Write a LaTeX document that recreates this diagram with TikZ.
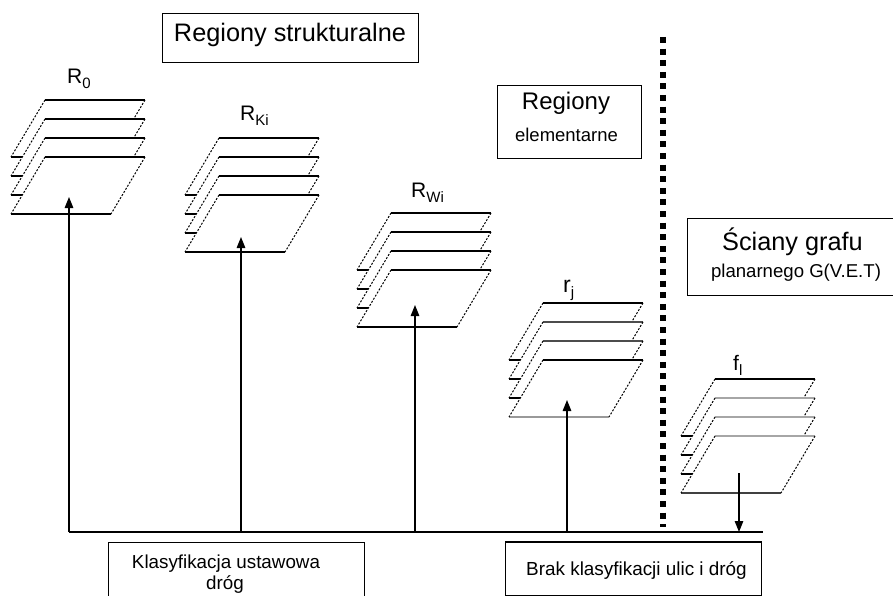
\documentclass[tikz,border=0pt]{standalone}
\usepackage{fontspec}
\setmainfont{Liberation Sans}
\usetikzlibrary{arrows.meta}
\newcommand{\lsub}[1]{\raisebox{-5pt}{\fontsize{15}{15}\selectfont #1}}
\newcommand{\planestack}[6]{% xL, yT, col k1-2, col k3 top, col k3 bottom, name
  \foreach \k/\tc/\bc in {0/black/black,1/#3/black,2/#3/black,3/#4/#5}{
    \pgfmathsetmacro{\ya}{#2+19*\k}
    \pgfmathsetmacro{\yb}{\ya+57}
    \pgfmathsetmacro{\xr}{#1+100}
    \pgfmathsetmacro{\xbl}{#1-34}
    \pgfmathsetmacro{\xbr}{#1+66}
    \coordinate (#6-tl\k) at (#1,\ya);
    \coordinate (#6-tr\k) at (\xr,\ya);
    \coordinate (#6-br\k) at (\xbr,\yb);
    \coordinate (#6-bl\k) at (\xbl,\yb);
    \fill[white] (#6-tl\k) -- (#6-tr\k) -- (#6-br\k) -- (#6-bl\k) -- cycle;
    \draw[edge,draw=\tc] (#6-tl\k) -- (#6-tr\k);
    \draw[edge,draw=\bc] (#6-bl\k) -- (#6-br\k);
    \draw[side] (#6-tl\k) -- (#6-bl\k);
    \draw[side] (#6-tr\k) -- (#6-br\k);
  }
}
\begin{document}
\begin{tikzpicture}[x=1pt,y=-1pt,
  side/.style={dash pattern=on 2pt off 1.6pt, line width=1pt},
  edge/.style={line width=1.2pt},
  arr/.style={line width=1.3pt, -{Triangle[length=11pt,width=8.5pt]}},
  box/.style={draw, line width=1pt, inner sep=0pt, anchor=north west},
  txt/.style={anchor=base, inner sep=0pt},
  lab/.style={anchor=base west, inner sep=0pt, font=\fontsize{21}{21}\selectfont}]
\clip (0,0) rectangle (893,596);
\fill[white] (0,0) rectangle (893,596);

% text boxes
\node[box, minimum width=256pt, minimum height=49pt] (bs) at (162,13) {};
\node[txt, font=\fontsize{25.3}{25}\selectfont] (ts) at (290,42) {Regiony strukturalne};

\node[box, minimum width=144pt, minimum height=73pt] (be) at (497,85) {};
\node[txt, font=\fontsize{24}{24}\selectfont] (te1) at (566,110) {Regiony};
\node[txt, font=\fontsize{18.5}{18.5}\selectfont] (te2) at (566.5,142) {elementarne};

\node[box, minimum width=230pt, minimum height=77pt] (bg) at (687,218) {};
\node[txt, font=\fontsize{25.3}{25}\selectfont] (tg1) at (792.5,250) {Ściany grafu};
\node[txt, font=\fontsize{18.6}{18.6}\selectfont] (tg2) at (796,277) {planarnego G(V.E.T)};

\node[box, minimum width=256pt, minimum height=70pt] (bk) at (108,542) {};
\node[txt, font=\fontsize{18.8}{18.8}\selectfont] (tk1) at (226,568) {Klasyfikacja ustawowa};
\node[txt, font=\fontsize{18.8}{18.8}\selectfont] (tk2) at (225,589) {dróg};

\node[box, minimum width=256pt, minimum height=53pt] (bb) at (505,542) {};
\draw[line width=1.8pt] (bb.north west) -- (bb.north east);
\node[txt, font=\fontsize{18.9}{18.9}\selectfont] (tb) at (636.5,575) {Brak klasyfikacji ulic i dróg};

% separator
\coordinate (sep-top) at (663,37);
\coordinate (sep-bot) at (663,527);
\draw[line width=6pt, dash pattern=on 6pt off 5.6pt] (sep-top) -- (sep-bot);

% stacks
\planestack{45}{100}{black}{black}{black}{s1}
\planestack{219}{138}{black}{black}{black}{s2}
\planestack{391}{213}{black}{black}{black}{s3}
\planestack{543}{303}{black!70}{black}{black!40}{s4}
\planestack{715}{379}{black!35}{black!35}{black!75}{s5}

% baseline
\coordinate (base-l) at (69,532);
\coordinate (base-r) at (763,532);
\draw[line width=1.2pt] (base-l) -- (base-r);

% arrows
\coordinate (b1) at (69,532);  \coordinate (a1) at (69,197);
\coordinate (b2) at (241,532); \coordinate (a2) at (241,237);
\coordinate (b3) at (415,532); \coordinate (a3) at (415,305);
\coordinate (b4) at (567,532); \coordinate (a4) at (567,400);
\coordinate (a5) at (739,473); \coordinate (b5) at (739,532);
\draw[arr] (b1) -- (a1);
\draw[arr] (b2) -- (a2);
\draw[arr] (b3) -- (a3);
\draw[arr] (b4) -- (a4);
\draw[arr] (a5) -- (b5);

% labels
\node[lab] (l1) at (67,84) {R\lsub{0}};
\node[lab] (l2) at (240,121) {R\lsub{Ki}};
\node[lab] (l3) at (411,197) {R\lsub{Wi}};
\node[lab, font=\fontsize{23}{23}\selectfont] (l4) at (563,292) {r\lsub{j}};
\node[lab] (l5) at (733,370) {f\lsub{l}};
\end{tikzpicture}
\end{document}
